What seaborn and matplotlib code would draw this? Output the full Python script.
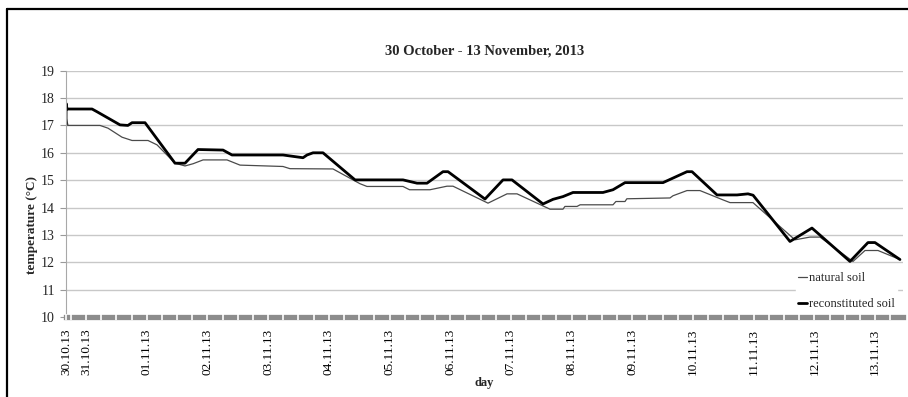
import numpy as np
import pandas as pd
import matplotlib
matplotlib.use("Agg")
import matplotlib.pyplot as plt
from matplotlib.lines import Line2D
from matplotlib.ticker import FixedLocator, MultipleLocator
import seaborn as sns

# Time axis: days elapsed since 30.10.2013 00:00
natural_day = [0.670, 0.675, 0.703, 1.231, 1.362, 1.593, 1.758, 2.021, 2.170, 2.466,
               2.631, 2.763, 2.928, 3.323, 3.537, 4.245, 4.360, 5.069, 5.514, 5.629,
               6.222, 6.330, 6.667, 6.947, 7.046, 7.623, 7.936, 8.101, 8.644, 8.858,
               8.890, 9.089, 9.140, 9.682, 9.730, 9.880, 9.910, 10.621, 10.670, 10.901,
               11.115, 11.494, 11.610, 11.988, 12.680, 12.927, 13.092, 13.636, 13.834,
               14.048, 14.410]
natural_temp = [16.90, 17.26, 17.00, 17.00, 16.90, 16.57, 16.45, 16.45, 16.29, 15.62,
                15.52, 15.60, 15.74, 15.74, 15.55, 15.50, 15.42, 15.41, 14.87, 14.77,
                14.77, 14.65, 14.65, 14.78, 14.78, 14.16, 14.50, 14.50, 13.94, 13.94,
                14.04, 14.04, 14.10, 14.10, 14.22, 14.22, 14.32, 14.35, 14.43, 14.62,
                14.62, 14.28, 14.18, 14.18, 12.82, 12.92, 12.92, 12.03, 12.43,
                12.43, 12.10]

reconst_day = [0.670, 0.672, 0.687, 1.099, 1.181, 1.560, 1.690, 1.758, 1.972, 2.466,
               2.631, 2.845, 3.257, 3.405, 4.245, 4.575, 4.641, 4.740, 4.904, 5.432,
               6.222, 6.453, 6.618, 6.881, 6.964, 7.573, 7.870, 8.018, 8.529, 8.694,
               8.858, 9.023, 9.517, 9.682, 9.880, 10.506, 10.901, 10.984, 11.396,
               11.725, 11.906, 11.990, 12.598, 12.960, 13.587, 13.883, 13.998, 14.410]
reconst_temp = [17.00, 17.80, 17.60, 17.60, 17.50, 17.02, 17.00, 17.10, 17.10, 15.62,
                15.62, 16.12, 16.10, 15.92, 15.92, 15.82, 15.92, 16.00, 16.00, 15.01,
                15.01, 14.89, 14.89, 15.31, 15.31, 14.31, 15.01, 15.01, 14.13, 14.30,
                14.40, 14.55, 14.55, 14.65, 14.91, 14.91, 15.31, 15.31, 14.46,
                14.46, 14.50, 14.45, 12.76, 13.25, 12.03, 12.72, 12.72, 12.10]

day_labels = ["30.10.13", "31.10.13", "01.11.13", "02.11.13", "03.11.13", "04.11.13",
              "05.11.13", "06.11.13", "07.11.13", "08.11.13", "09.11.13", "10.11.13",
              "11.11.13", "12.11.13", "13.11.13"]
series_names = ["natural soil", "reconstituted soil"]

df = pd.concat([
    pd.DataFrame({"day": natural_day, "temperature": natural_temp, "soil": series_names[0]}),
    pd.DataFrame({"day": reconst_day, "temperature": reconst_temp, "soil": series_names[1]}),
], ignore_index=True)

sns.set_theme(style="whitegrid")
plt.rcParams["font.family"] = ["Liberation Serif", "DejaVu Serif"]

fig = plt.figure(figsize=(9.08, 3.97), dpi=100)
ax = fig.add_axes([66 / 908, 1 - 317 / 397, 837 / 908, (317 - 70.7) / 397])

sns.lineplot(data=df, x="day", y="temperature", hue="soil", size="soil",
             palette={series_names[0]: "#4a4a4a", series_names[1]: "#000000"},
             sizes={series_names[0]: 0.9, series_names[1]: 2.0},
             estimator=None, sort=False, ax=ax, legend=True)

ax.set_xlim(natural_day[0], 14.46)
ax.set_ylim(10, 19)
ax.yaxis.set_major_locator(MultipleLocator(1))
ax.grid(axis="x", visible=False)
ax.grid(axis="y", color="#c8c8c8", linewidth=1.0)

# date ticks: first record, then each midnight
tick_pos = [natural_day[0]] + list(range(1, len(day_labels)))
ax.xaxis.set_major_locator(FixedLocator(tick_pos))
ax.set_xticklabels(day_labels, rotation=90, fontsize=9.5)
ax.xaxis.set_minor_locator(MultipleLocator(0.25))
ax.tick_params(axis="x", which="both", direction="inout", length=5, width=1.2,
               color="white", labelcolor="black", pad=6, bottom=True)
ax.tick_params(axis="y", which="major", direction="out", length=4, width=0.8,
               color="#9a9a9a", labelsize=10, pad=4, left=True)
ax.xaxis.set_zorder(3)

for side in ["top", "right"]:
    ax.spines[side].set_visible(False)
ax.spines["left"].set_color("#a8a8a8")
ax.spines["left"].set_linewidth(0.8)
ax.spines["bottom"].set_color("#8c8c8c")
ax.spines["bottom"].set_linewidth(3.8)
ax.spines["bottom"].set_zorder(6)

ax.set_title("30 October - 13 November, 2013", fontsize=10.5, fontweight="bold", pad=12)
ax.set_xlabel("day", fontsize=9, fontweight="bold", labelpad=1)
ax.set_ylabel("temperature (°C)", fontsize=9.5, fontweight="bold")
ax.yaxis.set_label_coords((31.7 - 66) / 837, (317 - 225) / 246.3)
ax.yaxis.label.set_va("center")

handles, labels = ax.get_legend_handles_labels()
leg = ax.legend(handles, labels, loc="upper left",
                bbox_to_anchor=(796 / 908, 1 - 270 / 397), bbox_transform=fig.transFigure,
                fontsize=9, handlelength=0.7, handletextpad=0.2, labelspacing=1.15,
                frameon=True, facecolor="white", edgecolor="white", framealpha=1,
                borderpad=0.15, borderaxespad=0)
leg.set_zorder(5)
ax.xaxis.set_zorder(7)

# outer frame on the left and top edges
fig.add_artist(Line2D([7 / 908, 7 / 908], [0, 1 - 9 / 397], color="black", linewidth=1.6,
                      transform=fig.transFigure))
fig.add_artist(Line2D([7 / 908, 1], [1 - 9 / 397, 1 - 9 / 397], color="black", linewidth=1.6,
                      transform=fig.transFigure))

fig.savefig("out.png", dpi=100, facecolor="white")
